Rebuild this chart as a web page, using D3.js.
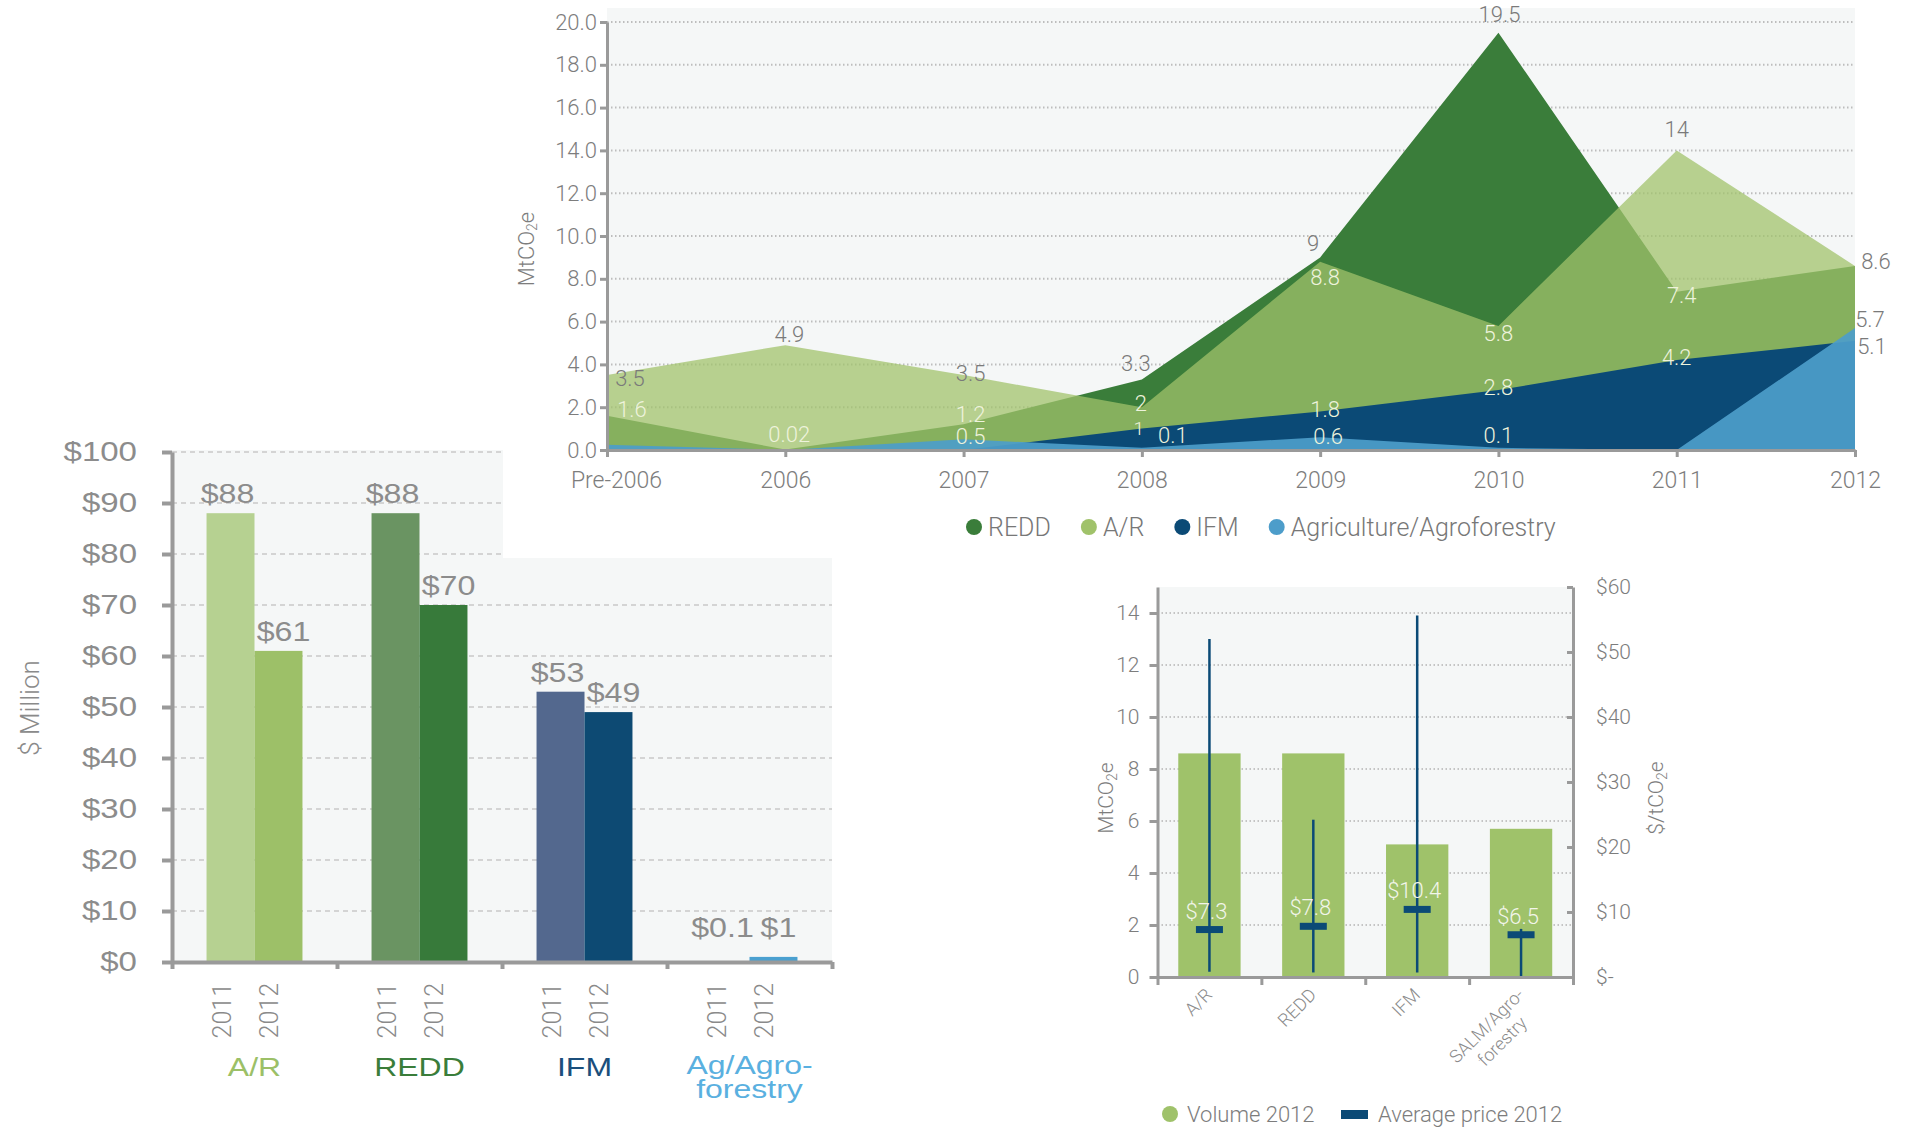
<!DOCTYPE html>
<html>
<head>
<meta charset="utf-8">
<script src="https://cdn.jsdelivr.net/npm/d3@7"></script>
<style>
  body { margin: 0; background: #fff; }
  svg { display: block; }
  text { font-family: Roboto, "Liberation Sans", sans-serif; font-weight: 300; fill: #7d7d7d; }
</style>
</head>
<body>
<svg id="chart" width="1910" height="1127"></svg>
<script>
// ---------- data: volume by year, MtCO2e ----------
const years = ["Pre-2006", "2006", "2007", "2008", "2009", "2010", "2011", "2012"];
const reddVolume = [1.6, 0.02, 1.2, 3.3, 9, 19.5, 7.4, 8.6];
const arVolume = [3.5, 4.9, 3.5, 2, 8.8, 5.8, 14, 8.6];
const ifmVolume = [0, 0, 0, 1, 1.8, 2.8, 4.2, 5.1];
const agVolume = [0.25, 0, 0.5, 0.1, 0.6, 0.1, 0, 5.7];
const volumeTicks = [0, 2, 4, 6, 8, 10, 12, 14, 16, 18, 20];

// ---------- data: value by project type, $ million ----------
const projectTypes = ["A/R", "REDD", "IFM", "Ag/Agro-forestry"];
const valueYears = ["2011", "2012"];
const value2011 = [88, 88, 53, 0.1];
const value2012 = [61, 70, 49, 1];
const valueTicks = [0, 10, 20, 30, 40, 50, 60, 70, 80, 90, 100];

// ---------- data: 2012 volume and prices ----------
const types2012 = ["A/R", "REDD", "IFM", "SALM/Agro-forestry"];
const volume2012 = [8.6, 8.6, 5.1, 5.7];
const avgPrice2012 = [7.3, 7.8, 10.4, 6.5];
const minPrice2012 = [0.8, 0.7, 0.7, 0];
const maxPrice2012 = [52, 24.2, 55.6, 7.4];
const volume2012Ticks = [0, 2, 4, 6, 8, 10, 12, 14];
const priceTicks = [0, 10, 20, 30, 40, 50, 60];

// colours
const cRedd = "#3a7d3a", cAr = "#a0c26a", cIfm = "#0b4a76", cAg = "#4d9dca";
const bar2011Colors = ["#b6d191", "#6a9462", "#53688e", "#7cc0e6"];
const bar2012Colors = ["#9dc068", "#377a3a", "#0d4a73", "#4aa0d0"];
const typeTextColors = ["#9cc067", "#3a7d3a", "#1b4f7c", "#5ab0e0"];
const axisGrey = "#9a9a9a";
const bgGrey = "#f5f7f7";

const svg = d3.select("#chart");

drawBarChart();
drawTopChart();
drawPriceChart();

function styleAxis(g, width) {
    g.selectAll(".domain").attr("stroke", axisGrey).attr("stroke-width", width);
    g.selectAll(".tick line").attr("stroke", axisGrey).attr("stroke-width", width);
}

function splitLabel(s) {
    return s.split(/(?<=-)/);
}

// the bar chart lettering is a wide grotesque: stretch Liberation Sans a bit
function wide(sel, size, stretch) {
    return sel.style("font-family", "'Liberation Sans', Arial, sans-serif")
        .style("font-weight", 400)
        .style("font-size", size + "px")
        .attr("data-stretch", stretch);
}

// ---------------- left: value bar chart ----------------
function drawBarChart() {
    let left = 172, right = 832, top = 452, bottom = 962;

    let y = d3.scaleLinear().domain([0, 100]).range([bottom, top]);
    let group = d3.scaleBand().domain(projectTypes).range([left, right]);
    let inner = d3.scaleBand().domain(valueYears).range([0, group.bandwidth()]).paddingOuter(0.72);

    svg.append("rect")
        .attr("x", left).attr("y", top - 2)
        .attr("width", right - left).attr("height", bottom - top + 2)
        .attr("fill", bgGrey);

    // dashed grid
    svg.append("g").selectAll("line")
        .data(valueTicks.slice(1))
        .join("line")
        .attr("x1", left).attr("x2", right)
        .attr("y1", d => y(d)).attr("y2", d => y(d))
        .attr("stroke", "#c9c9c9")
        .attr("stroke-width", 1.5)
        .attr("stroke-dasharray", "5,4");

    let rows = projectTypes.map((t, i) => ({ type: t, i: i, vals: [value2011[i], value2012[i]] }));

    rows.forEach(r => {
        r.vals.forEach((v, k) => {
            let bx = group(r.type) + inner(valueYears[k]);
            let cx = bx + inner.bandwidth() / 2;
            svg.append("rect")
                .attr("x", bx)
                .attr("y", y(v))
                .attr("width", inner.bandwidth())
                .attr("height", y(0) - y(v))
                .attr("fill", k === 0 ? bar2011Colors[r.i] : bar2012Colors[r.i]);

            let lx = cx + (k === 0 ? -3 : 5);
            let ly = Math.min(y(v), y(3)) - 10;
            svg.append("text")
                .attr("transform", "translate(" + lx + "," + ly + ") scale(1.15,1)")
                .attr("text-anchor", "middle")
                .call(wide, 28, 1.15)
                .style("fill", "#8c8c8c")
                .text("$" + v);

            svg.append("text")
                .attr("transform", "translate(" + cx + ",983) rotate(-90)")
                .attr("text-anchor", "end")
                .style("font-size", "25px")
                .style("fill", "#8a8a8a")
                .text(valueYears[k]);
        });

        let lines = splitLabel(r.type);
        lines.forEach((ln, j) => {
            let gx = group(r.type) + group.bandwidth() / 2;
            let gy = (lines.length > 1 ? 1074 : 1076) + j * 24;
            svg.append("text")
                .attr("transform", "translate(" + gx + "," + gy + ") scale(1.28,1)")
                .attr("text-anchor", "middle")
                .call(wide, 25, 1.28)
                .style("fill", typeTextColors[r.i])
                .text(ln);
        });
    });

    // axes
    let yAxis = svg.append("g")
        .attr("transform", "translate(" + left + ",0)")
        .call(d3.axisLeft(y).tickValues(valueTicks).tickFormat(d => "$" + d)
            .tickSize(10).tickSizeOuter(0).tickPadding(24));
    styleAxis(yAxis, 4);
    yAxis.selectAll("text")
        .call(wide, 28, 1.18)
        .attr("x", 0)
        .attr("transform", "translate(-35,0) scale(1.18,1)")
        .style("fill", "#8c8c8c");

    let idx = d3.scaleLinear().domain([0, projectTypes.length]).range([left, right]);
    let xAxis = svg.append("g")
        .attr("transform", "translate(0," + bottom + ")")
        .call(d3.axisBottom(idx).tickValues(d3.range(projectTypes.length + 1))
            .tickFormat("").tickSize(7).tickSizeOuter(0));
    styleAxis(xAxis, 4);

    svg.append("text")
        .attr("transform", "translate(30,708) rotate(-90)")
        .attr("text-anchor", "middle")
        .attr("dominant-baseline", "central")
        .style("font-size", "26px")
        .style("fill", "#8a8a8a")
        .text("$ Million");
}

// ---------------- top: volume area chart ----------------
function drawTopChart() {
    // the top chart's white canvas overlaps the corner of the bar chart
    svg.append("rect")
        .attr("x", 503).attr("y", 0)
        .attr("width", 1910 - 503).attr("height", 558)
        .attr("fill", "#fff");

    let x = d3.scalePoint().domain(years).range([607, 1855]);
    let y = d3.scaleLinear().domain([0, 20]).range([450, 22]);

    svg.append("rect")
        .attr("x", 607).attr("y", 8)
        .attr("width", 1855 - 607).attr("height", 450 - 8)
        .attr("fill", bgGrey);

    svg.append("g").selectAll("line")
        .data(volumeTicks.slice(1))
        .join("line")
        .attr("x1", 607).attr("x2", 1855)
        .attr("y1", d => y(d)).attr("y2", d => y(d))
        .attr("stroke", "#bdbdbd")
        .attr("stroke-width", 2)
        .attr("stroke-dasharray", "1.5,2.5");

    let area = d3.area()
        .x((d, i) => x(years[i]))
        .y0(y(0))
        .y1(d => y(d));

    svg.append("path").datum(reddVolume).attr("d", area).attr("fill", cRedd);
    svg.append("path").datum(arVolume).attr("d", area).attr("fill", cAr).attr("fill-opacity", 0.74);
    svg.append("path").datum(ifmVolume).attr("d", area).attr("fill", cIfm);
    svg.append("path").datum(agVolume).attr("d", area).attr("fill", cAg).attr("fill-opacity", 0.92);

    // value labels: [series, year index, dx, dy, sits above the areas, font size]
    let series = { redd: reddVolume, ar: arVolume, ifm: ifmVolume, ag: agVolume };
    let topLabels = [
        ["ar", 0, 23, 3, true], ["redd", 0, 25, -6, false],
        ["ar", 1, 4, -11, true], ["redd", 1, 4, -15, false],
        ["ar", 2, 7, -2, true], ["redd", 2, 7, -10, false], ["ag", 2, 7, -3, false],
        ["redd", 3, -6, -16, true], ["ar", 3, -1, -4, false], ["ifm", 3, -3, 0, false, 19], ["ag", 3, 31, -12, false],
        ["redd", 4, -7, -14, true], ["ar", 4, 5, 16, false], ["ifm", 4, 5, -2, false], ["ag", 4, 8, -1, false],
        ["redd", 5, 1, -18, true], ["ar", 5, 0, 8, false], ["ifm", 5, 0, -3, false], ["ag", 5, 0, -12, false],
        ["ar", 6, 0, -21, true], ["redd", 6, 5, 4, false], ["ifm", 6, 0, -3, false],
        ["ar", 7, 21, -4, true], ["ag", 7, 15, -9, true], ["ifm", 7, 17, 6, true]
    ];
    svg.append("g").selectAll("text")
        .data(topLabels)
        .join("text")
        .attr("x", d => x(years[d[1]]) + d[2])
        .attr("y", d => y(series[d[0]][d[1]]) + d[3])
        .attr("text-anchor", "middle")
        .attr("dominant-baseline", "central")
        .style("font-size", d => (d[5] || 22) + "px")
        .style("fill", d => d[4] ? "#7a7a7a" : "#eef3dc")
        .text(d => series[d[0]][d[1]]);

    let yAxis = svg.append("g")
        .attr("transform", "translate(607,0)")
        .call(d3.axisLeft(y).tickValues(volumeTicks).tickFormat(d3.format(".1f"))
            .tickSize(7).tickSizeOuter(0).tickPadding(3));
    styleAxis(yAxis, 3);
    yAxis.selectAll("text").style("font-size", "22px");

    let xAxis = svg.append("g")
        .attr("transform", "translate(0,450)")
        .call(d3.axisBottom(x).tickSize(7).tickSizeOuter(0).tickPadding(15));
    styleAxis(xAxis, 3);
    xAxis.selectAll("text")
        .style("font-size", "23px")
        .attr("dx", d => d === years[0] ? 9 : 0);

    svg.append("text")
        .attr("transform", "translate(526,249) rotate(-90)")
        .attr("text-anchor", "middle")
        .attr("dominant-baseline", "central")
        .style("font-size", "22px")
        .call(t => {
            t.append("tspan").text("MtCO");
            t.append("tspan").attr("dy", 6).style("font-size", "14px").text("2");
            t.append("tspan").attr("dy", -6).text("e");
        });

    // legend
    let legendItems = [["REDD", cRedd], ["A/R", cAr], ["IFM", cIfm], ["Agriculture/Agroforestry", cAg]];
    let lx = 974;
    legendItems.forEach(item => {
        svg.append("circle").attr("cx", lx).attr("cy", 527).attr("r", 8).attr("fill", item[1]);
        let t = svg.append("text")
            .attr("x", lx + 14)
            .attr("y", 527)
            .attr("dominant-baseline", "central")
            .style("font-size", "25px")
            .style("fill", "#777")
            .text(item[0]);
        lx = lx + 14 + t.node().getComputedTextLength() + 38;
    });
}

// ---------------- right: 2012 volume and price ----------------
function drawPriceChart() {
    let left = 1157.5, right = 1573, top = 587, bottom = 977;

    let x = d3.scaleBand().domain(types2012).range([left, right]).paddingInner(0.4).paddingOuter(0.2);
    let yV = d3.scaleLinear().domain([0, 15]).range([bottom, top]);
    let yP = d3.scaleLinear().domain([0, 60]).range([bottom, top]);

    svg.append("rect")
        .attr("x", left).attr("y", top)
        .attr("width", right - left).attr("height", bottom - top)
        .attr("fill", bgGrey);

    svg.append("g").selectAll("line")
        .data(volume2012Ticks.slice(1))
        .join("line")
        .attr("x1", left).attr("x2", right)
        .attr("y1", d => yV(d)).attr("y2", d => yV(d))
        .attr("stroke", "#c4c4c4")
        .attr("stroke-width", 2)
        .attr("stroke-dasharray", "1.5,2.5");

    svg.append("g").selectAll("rect")
        .data(volume2012)
        .join("rect")
        .attr("x", (d, i) => x(types2012[i]))
        .attr("y", d => yV(d))
        .attr("width", x.bandwidth())
        .attr("height", d => yV(0) - yV(d))
        .attr("fill", "#9fc26a");

    types2012.forEach((t, i) => {
        let cx = x(t) + x.bandwidth() / 2;
        svg.append("line")
            .attr("x1", cx).attr("x2", cx)
            .attr("y1", yP(minPrice2012[i])).attr("y2", yP(maxPrice2012[i]))
            .attr("stroke", cIfm)
            .attr("stroke-width", 2.5);
        svg.append("rect")
            .attr("x", cx - 13.5)
            .attr("y", yP(avgPrice2012[i]) - 3.5)
            .attr("width", 27).attr("height", 7)
            .attr("fill", cIfm);
        svg.append("text")
            .attr("x", cx - 3)
            .attr("y", yP(avgPrice2012[i]) - 11)
            .attr("text-anchor", "middle")
            .style("font-size", "22px")
            .style("fill", "#f2f5ea")
            .text("$" + avgPrice2012[i]);

        // rotated category label, second line centred under the first
        let lines = splitLabel(t);
        let g = svg.append("g")
            .attr("transform", "translate(" + (cx + 4) + ",996) rotate(-45)");
        let first = g.append("text")
            .attr("text-anchor", "end")
            .style("font-size", "18px")
            .style("fill", "#8a8a8a")
            .text(lines[0]);
        if (lines.length > 1) {
            let len = first.node().getComputedTextLength();
            g.append("text")
                .attr("x", -len / 2)
                .attr("y", 22)
                .attr("text-anchor", "middle")
                .style("font-size", "18px")
                .style("fill", "#8a8a8a")
                .text(lines[1]);
        }
    });

    let yAxisL = svg.append("g")
        .attr("transform", "translate(" + left + ",0)")
        .call(d3.axisLeft(yV).tickValues(volume2012Ticks).tickSize(8).tickSizeOuter(0).tickPadding(10));
    styleAxis(yAxisL, 3);
    yAxisL.selectAll("text").style("font-size", "21px");

    let yAxisR = svg.append("g")
        .attr("transform", "translate(" + right + ",0)")
        .call(d3.axisRight(yP).tickValues(priceTicks).tickFormat(d => d ? "$" + d : "$-")
            .tickSize(-6).tickSizeOuter(0).tickPadding(23));
    styleAxis(yAxisR, 3);
    yAxisR.selectAll("text").style("font-size", "21px");

    let idx = d3.scaleLinear().domain([0, types2012.length]).range([left, right]);
    let xAxis = svg.append("g")
        .attr("transform", "translate(0," + bottom + ")")
        .call(d3.axisBottom(idx).tickValues(d3.range(types2012.length + 1))
            .tickFormat("").tickSize(8).tickSizeOuter(0));
    styleAxis(xAxis, 3);

    svg.append("text")
        .attr("transform", "translate(1106,798) rotate(-90)")
        .attr("text-anchor", "middle")
        .attr("dominant-baseline", "central")
        .style("font-size", "21px")
        .call(t => {
            t.append("tspan").text("MtCO");
            t.append("tspan").attr("dy", 6).style("font-size", "14px").text("2");
            t.append("tspan").attr("dy", -6).text("e");
        });

    svg.append("text")
        .attr("transform", "translate(1656,798) rotate(-90)")
        .attr("text-anchor", "middle")
        .attr("dominant-baseline", "central")
        .style("font-size", "21px")
        .call(t => {
            t.append("tspan").text("$/tCO");
            t.append("tspan").attr("dy", 6).style("font-size", "14px").text("2");
            t.append("tspan").attr("dy", -6).text("e");
        });

    // legend
    svg.append("circle").attr("cx", 1170).attr("cy", 1114).attr("r", 8).attr("fill", "#9fc26a");
    svg.append("text").attr("x", 1187).attr("y", 1114)
        .attr("dominant-baseline", "central")
        .style("font-size", "22px").text("Volume 2012");
    svg.append("rect").attr("x", 1341).attr("y", 1110).attr("width", 27).attr("height", 9).attr("fill", cIfm);
    svg.append("text").attr("x", 1378).attr("y", 1114)
        .attr("dominant-baseline", "central")
        .style("font-size", "22px").text("Average price 2012");
}
</script>
</body>
</html>
